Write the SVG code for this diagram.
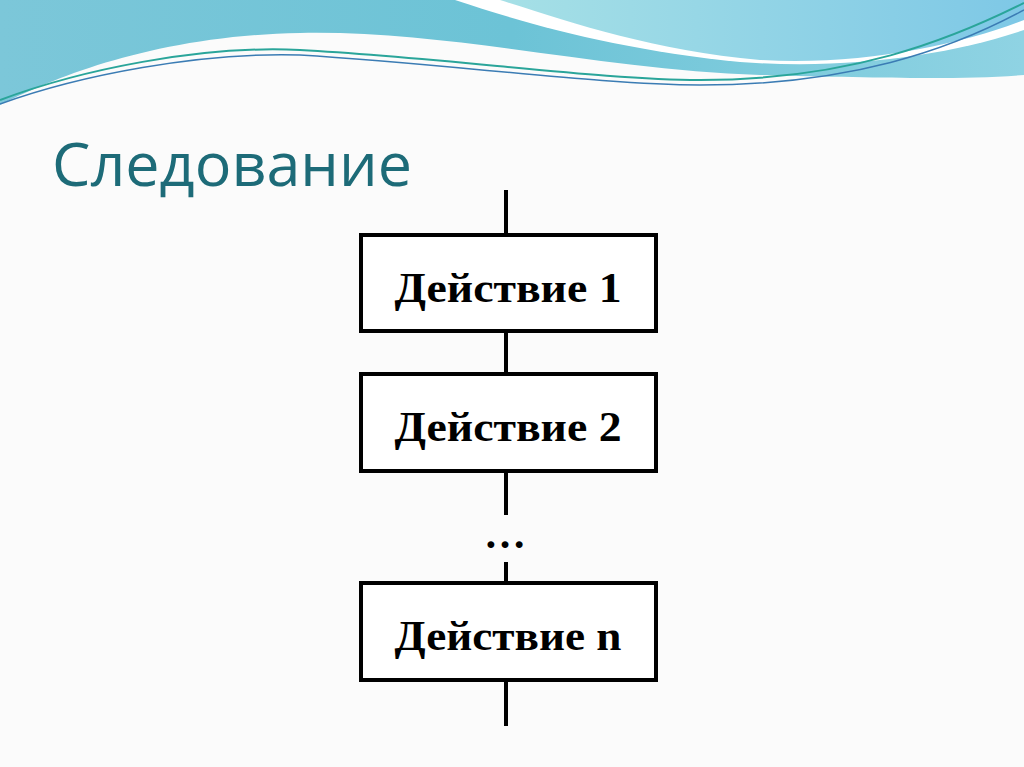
<svg xmlns="http://www.w3.org/2000/svg" width="1024" height="767" viewBox="0 0 1024 767">
<defs>
<linearGradient id="bg1" x1="0" y1="0" x2="1" y2="0"><stop offset="0" stop-color="#7cc7d9"/><stop offset="0.5" stop-color="#6cc3d6"/><stop offset="1" stop-color="#8fd3e3"/></linearGradient>
<linearGradient id="bg2" x1="0" y1="0" x2="1" y2="0"><stop offset="0" stop-color="#a6e0e6"/><stop offset="1" stop-color="#7ec8e6"/></linearGradient>
<style>
.box{fill:#fff;stroke:#000;stroke-width:4}
.ln{stroke:#000;stroke-width:4;fill:none}
.t{font-family:"Liberation Serif",serif;font-weight:bold;font-size:42px;text-anchor:middle}
</style>
</defs>
<rect width="1024" height="767" fill="#fbfbfb"/>
<path d="M0,0 H1024 V75 C960,80 880,78 760,75 C600,70 450,30 300,33 C150,36 50,80 0,105 Z" fill="url(#bg1)"/>
<path d="M455,0 C530,25 620,50 740,62 C850,70 950,55 1024,30 V0 Z" fill="#fff"/>
<path d="M500,0 C570,22 650,50 760,60 C860,66 960,45 1024,20 V0 Z" fill="url(#bg2)"/>
<path d="M0,100 C80,70 200,45 300,50 C450,58 600,80 700,80 C850,80 950,40 1024,3" fill="none" stroke="#2aa59a" stroke-width="2"/>
<path d="M0,104 C80,75 200,52 300,55 C450,64 600,85 700,85 C850,85 950,50 1024,10" fill="none" stroke="#3b7cb4" stroke-width="1.5"/>
<text x="52" y="186" font-family="'Open Sans','Liberation Sans',sans-serif" font-size="60" font-weight="500" fill="#1d6b78" textLength="360" lengthAdjust="spacingAndGlyphs">Следование</text>
<g id="connectors">
<line class="ln" x1="506" y1="190" x2="506" y2="235"/>
<line class="ln" x1="506" y1="331" x2="506" y2="374"/>
<line class="ln" x1="506" y1="471" x2="506" y2="515"/>
<line class="ln" x1="506" y1="562" x2="506" y2="583"/>
<line class="ln" x1="506" y1="680" x2="506" y2="726"/>
</g>
<g id="n1"><rect class="box" x="361" y="235" width="295" height="96"/><text class="t" x="508" y="302" textLength="227" lengthAdjust="spacingAndGlyphs">Действие 1</text></g>
<g id="n2"><rect class="box" x="361" y="374" width="295" height="97"/><text class="t" x="508" y="441" textLength="227" lengthAdjust="spacingAndGlyphs">Действие 2</text></g>
<text class="t" x="505" y="548">…</text>
<g id="n3"><rect class="box" x="361" y="583" width="295" height="97"/><text class="t" x="508" y="650" textLength="227" lengthAdjust="spacingAndGlyphs">Действие n</text></g>
</svg>
